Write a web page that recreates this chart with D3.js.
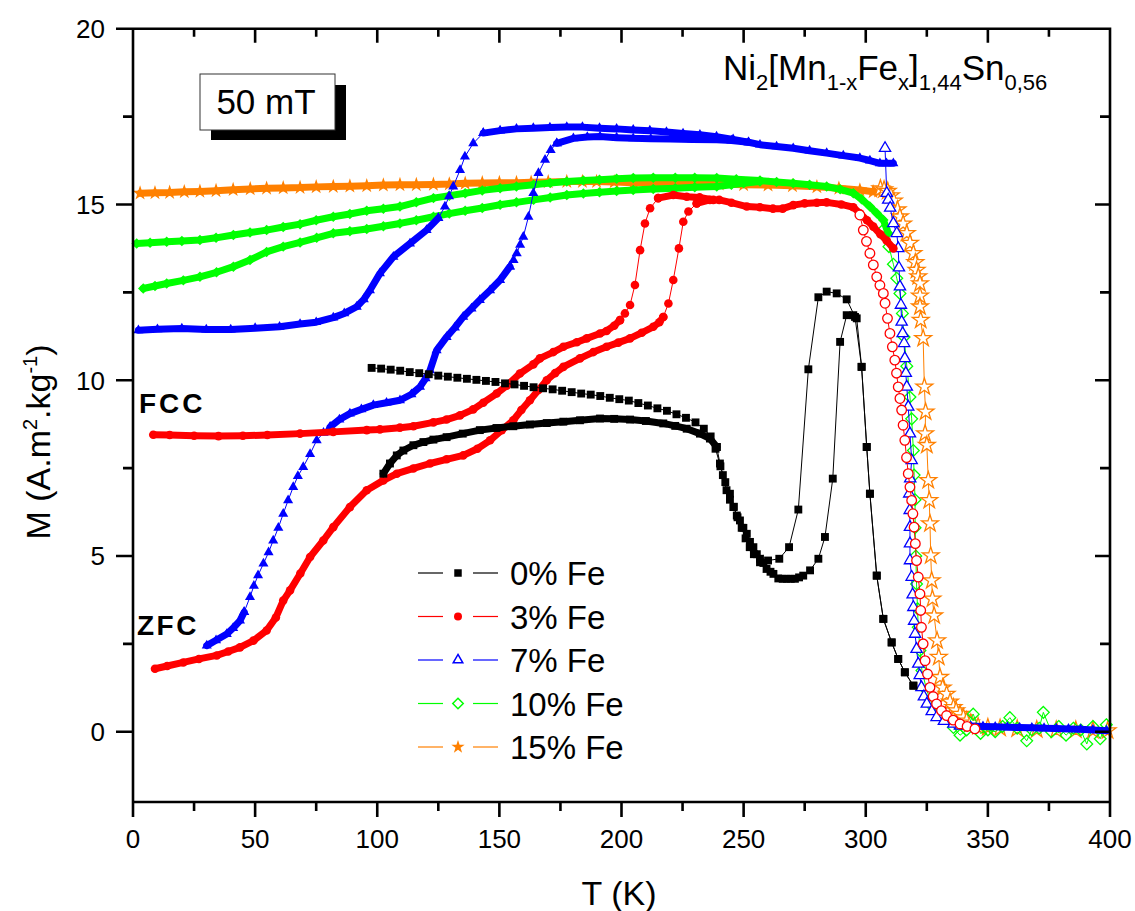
<!DOCTYPE html>
<html><head><meta charset="utf-8">
<script src="https://cdn.jsdelivr.net/npm/d3@7"></script>
<style>
body{margin:0;background:#fff}
svg{display:block}
text{font-family:Arial,"Liberation Sans",sans-serif;fill:#000}
</style>
</head><body>
<svg id="c" width="1135" height="911"></svg>
<script>
// ---------------- DATA (T in K, M in A.m2/kg) ----------------
const xTicks = [0,50,100,150,200,250,300,350,400];
const xMinor = [25,75,125,175,225,275,325,375];
const yTicks = [0,5,10,15,20];
const yMinor = [2.5,7.5,12.5,17.5];
const legendLabels = ['0% Fe','3% Fe','7% Fe','10% Fe','15% Fe'];

// 0% Fe
const fe0_zfc_band = [[102.5,7.34],[105.2,7.63],[108,7.86],[110.7,8.0],[114.8,8.15],[118.9,8.24],[123,8.31],[128.4,8.38],[135,8.48],[142,8.58],[148.8,8.64],[155.7,8.69],[162.5,8.74],[169.4,8.78],[176.2,8.82],[183,8.86],[191.2,8.91],[197,8.9],[203.5,8.88],[210,8.84],[217.1,8.77],[222,8.7],[226.7,8.62],[232.1,8.48],[236.2,8.34],[239,8.1]];
const fe0_heat = [[239,8.1],[240.3,7.63],[241.5,7.3],[243,6.87],[244.4,6.6],[245.8,6.39],[247.2,6.15],[248.5,6.01],[249.9,5.8],[251.3,5.63],[252.6,5.4],[254,5.25],[255.4,5.05],[256.7,4.92],[258.1,4.8],[259.4,4.63],[261,4.55],[262.2,4.49],[264.2,4.36],[266,4.35],[267.6,4.35],[269.3,4.35],[271,4.35],[272.7,4.39],[274.4,4.44],[277.2,4.59],[280.6,4.92],[283.3,5.54],[286.5,7.2],[289.5,11.09],[292.2,11.85],[294.9,11.85],[296.3,11.76],[298.3,10.38],[300.4,8.1],[301.7,6.77],[304.5,4.44],[307.2,3.21],[310.6,2.54],[313.3,2.07],[316,1.69],[319.5,1.31]];
const fe0_fc = [[97.7,10.35],[101.6,10.33],[105.5,10.3],[109.4,10.27],[113.3,10.23],[117.2,10.2],[121.1,10.17],[125,10.13],[128.9,10.1],[132.8,10.07],[136.7,10.04],[140.6,10.01],[144.5,9.98],[148.4,9.95],[152.3,9.91],[156.2,9.88],[160.1,9.84],[164,9.8],[167.9,9.77],[171.8,9.74],[175.7,9.7],[179.6,9.66],[183.5,9.62],[187.4,9.59],[191.3,9.55],[195.2,9.5],[199.1,9.46],[203,9.42],[206.9,9.35],[210.8,9.28],[214.7,9.2],[218.6,9.13],[222.5,9.03],[226.4,8.93],[230.3,8.8],[233.7,8.62],[236.5,8.4],[238.5,8.05],[240.5,7.55],[242.5,7.1],[244.4,6.77],[246,6.4],[247.5,6.1],[249.2,5.8],[250.8,5.5],[252.5,5.25],[254.2,5.05],[256.7,4.82],[260,4.87],[264.6,4.92],[268.6,5.25],[272.4,6.32],[276.5,10.31],[280.6,12.36],[284,12.52],[288.1,12.47],[292.2,12.3],[295.6,11.8],[298.3,10.38],[300.4,8.1],[301.7,6.77],[304.5,4.44],[307.2,3.21],[310.6,2.54],[313.3,2.07],[316,1.69],[319.5,1.31]];

// 3% Fe
const fe3_zfc_band = [[9,1.79],[14,1.87],[20.6,1.97],[27,2.07],[34.3,2.17],[39,2.28],[43.8,2.4],[49.3,2.59],[54.7,2.88],[58.5,3.25],[61.5,3.73],[64.3,4.02],[68.5,4.5],[72.5,4.97],[77.9,5.44],[82,5.82],[88.8,6.39],[95.7,6.87],[102.5,7.15],[108,7.34],[114.8,7.49],[121.6,7.63],[128.4,7.75],[135.2,7.86],[141,8.05],[146.2,8.29],[151,8.58],[155.7,8.86],[159,9.15],[162.5,9.43],[166,9.72],[169.4,10.0],[172.8,10.2],[176.2,10.38],[183,10.62],[188.5,10.8],[193.9,10.95],[198.7,11.07],[203.5,11.19],[208.3,11.35],[213,11.52],[215.5,11.65],[217.1,11.8]];
const fe3_zfc_jump = [[217.1,11.8],[219.2,12.18],[221.2,12.85],[223.5,13.75],[225.3,14.51],[227.4,14.8],[230.8,15.03]];
const fe3_plateau = [[230.8,15.03],[236.2,15.13],[240,15.13],[245,15.05],[251.3,14.94],[256.7,14.92],[262,14.88],[266,14.88],[270.3,14.98],[275,15.03],[280,15.05],[284,15.06],[290,15.0],[294.9,14.92],[297.6,14.75],[300.5,14.55],[303.1,14.37],[306,14.15],[308.6,13.97],[311.3,13.75]];
const fe3_fc_band = [[8.3,8.45],[15,8.44],[25,8.42],[35,8.41],[45,8.42],[55,8.44],[68.4,8.48],[82,8.53],[95.7,8.58],[101.1,8.6],[109.3,8.65],[114.8,8.69],[123,8.8],[128.4,8.88],[133.9,9.0],[139.3,9.17],[143.4,9.36],[148.9,9.62],[153,9.84],[158.4,10.19],[163.9,10.45],[166.6,10.62],[172.1,10.8],[176.2,10.95],[181.7,11.08],[185.8,11.19],[191.2,11.33],[193.9,11.4],[197,11.55],[199.4,11.71]];
const fe3_fc_jump = [[199.4,11.71],[201.4,11.9],[203.5,12.14],[205.5,12.71],[207.6,13.7],[209.6,14.46],[211.7,14.89],[215,15.18]];
const fe3_fc_top = [[215,15.18],[221.2,15.27],[226.7,15.22],[232,15.2],[237.6,15.13]];
const fe3_hiT = [[297.6,14.7],[299,14.27],[300.3,13.95],[301.7,13.61],[303.1,13.28],[304.5,12.94],[305.8,12.7],[307.2,12.47],[307.9,12.19],[308.9,11.76],[309.9,11.33],[310.9,10.95],[311.9,10.57],[312.6,10.2],[313.3,9.81],[314,9.48],[314.7,9.15],[315.3,8.72],[316,8.29],[316.7,7.8],[317.4,7.34],[318.1,6.96],[318.8,6.58],[319.3,6.2],[319.8,5.82],[320.3,5.35],[320.8,4.87],[321.5,4.4],[322.2,3.92],[322.5,3.45],[322.8,2.97],[323.5,2.5],[324.3,2.02],[325.3,1.64],[326.3,1.26],[327.6,1.0],[329,0.79],[331,0.6],[333.1,0.46],[335.8,0.33],[338.6,0.22],[341.5,0.15],[344.7,0.08]];

// 7% Fe
const fe7_fc_band = [[2.2,11.42],[10,11.45],[20,11.47],[30,11.44],[40,11.44],[50,11.48],[60,11.52],[68.4,11.6],[75,11.65],[82,11.78],[86.5,11.9],[91.6,12.09],[94.5,12.3],[97,12.56],[101.1,13.04],[106.6,13.51],[113.4,13.89],[120.2,14.27],[125,14.61]];
const fe7_fc_jump = [[125,14.61],[127.7,14.94],[129.4,15.23],[131.1,15.51],[133.9,15.98],[135.9,16.36],[139.3,16.74],[143.4,17.03]];
const fe7_plateau = [[143.4,17.03],[150.3,17.1],[157,17.15],[163.9,17.17],[170.7,17.19],[177.6,17.2],[184,17.2],[191,17.17],[198,17.15],[204.8,17.12],[211.6,17.1],[218.4,17.06],[225.2,17.02],[232.1,16.98],[238.9,16.93],[245.7,16.85],[252,16.77],[256.7,16.7],[263.5,16.65],[270.3,16.6],[277,16.53],[284,16.46],[290.8,16.39],[297.6,16.32],[301.7,16.25],[305.8,16.17],[308.5,16.17],[311.3,16.17]];
const fe7_zfc_band1 = [[30.2,2.45],[34,2.6],[38.4,2.78],[41,2.95],[43.8,3.16],[45.5,3.4]];
const fe7_zfc_steep1 = [[45.5,3.4],[47.9,3.83],[49.5,4.15],[51.2,4.45],[53.4,4.78],[55.5,5.1],[57.4,5.44],[59.5,5.8],[61.5,6.2],[63.5,6.58],[65.6,6.96],[67.5,7.27],[69.7,7.53],[72.5,7.9],[75.2,8.29],[78,8.5],[80.7,8.67]];
const fe7_zfc_band2 = [[80.7,8.67],[84.5,8.88],[88.8,9.05],[93.5,9.17],[98.4,9.29],[103.8,9.36],[109.3,9.43],[114,9.6],[117.5,9.81],[119.8,10.05],[121.6,10.28],[124.3,10.85],[128.4,11.23],[131.8,11.5],[135.2,11.8],[138.6,12.04],[142,12.28],[146.2,12.56],[150.3,12.85],[154.3,13.23]];
const fe7_zfc_steep2 = [[154.3,13.23],[155.8,13.42],[157.1,13.61],[158.5,13.85],[159.8,14.08],[161.9,14.65],[163.9,15.32],[166,15.89],[168.7,16.27],[171,16.55],[173.5,16.74]];
const fe7_zfc_band3 = [[173.5,16.74],[180.3,16.88],[186,16.92],[191.2,16.93],[198,16.9],[204.8,16.88],[212,16.87],[220,16.86],[229,16.85],[239,16.84],[245,16.82],[252,16.77]];
const fe7_hiT = [[307.9,16.6],[308.6,15.32],[309.2,15.13],[310,14.9],[311.3,14.46],[312.7,14.18],[313.3,13.75],[313.6,13.2],[314,12.66],[314.4,12.14],[314.7,11.66],[315.1,11.33],[315.7,11.05],[316,10.62],[316.4,10.2],[316.8,9.81],[317.4,9.24],[318.1,8.48],[318.8,7.72],[318.2,7.2],[317.8,6.77],[318,6.3],[318.1,5.82],[318.1,5.35],[318.1,4.87],[318.8,4.4],[319.2,3.9],[319.5,3.54],[319.8,3.15],[320.2,2.78],[320.8,2.35],[321.5,1.93],[322.1,1.6],[322.8,1.26],[323.8,1.0],[325,0.79],[327,0.58],[329,0.41],[332,0.3],[335.9,0.22],[338.6,0.17]];
const fe7_tail = [[338.6,0.17],[343,0.16],[348,0.15],[353,0.14],[358,0.13],[363,0.12],[368,0.11],[373,0.1],[378,0.09],[383,0.08],[388,0.07],[393,0.05],[398.6,0.03]];

// 10% Fe
const fe10_fc_band = [[1.5,13.89],[7,13.91],[13.8,13.94],[20,13.96],[27.4,13.99],[34,14.05],[41.1,14.13],[47.9,14.2],[54.7,14.27],[61.5,14.36],[68.4,14.44],[75,14.55],[82,14.65],[88.8,14.73],[95.7,14.82],[102.5,14.88],[109.3,14.94],[116,15.06],[123,15.18],[129.5,15.25],[136,15.32],[143,15.4],[150.3,15.46],[157,15.51],[164,15.56],[170.8,15.61],[177.6,15.65],[184.4,15.68],[191,15.7],[198,15.73],[204.8,15.75],[213,15.76],[222,15.76],[230,15.76],[239,15.75],[247,15.72],[256.7,15.68],[263.5,15.64],[270.3,15.6],[277,15.56],[284,15.51],[289.5,15.43],[294.9,15.32],[298.3,15.15],[301.7,14.94],[304.5,14.75],[307.2,14.56],[309.2,14.18]];
const fe10_zfc_band = [[4.2,12.61],[9,12.68],[13.8,12.75],[20.6,12.84],[27.4,12.94],[34.2,13.07],[41.1,13.23],[47.9,13.42],[54.7,13.65],[61.5,13.8],[68.4,13.92],[75.2,14.05],[82,14.18],[88.8,14.24],[95.7,14.3],[102.5,14.38],[109.3,14.46],[116,14.55],[123,14.65],[129.5,14.74],[136,14.82],[143,14.9],[150.3,14.99],[157,15.06],[164,15.13],[170.8,15.2],[177.6,15.27],[184.4,15.31],[191,15.35],[198,15.38],[204.8,15.41],[213,15.44],[222,15.46],[230,15.49],[239,15.51],[245,15.56],[250,15.6],[256.7,15.65]];
const fe10_hiT = [[307.5,14.3],[309.5,13.8],[311.3,13.3],[312.7,12.9],[314,12.47],[315,11.9],[315.7,11.23],[316.8,10.4],[318.1,9.52],[318.8,8.9],[319.5,8.0],[319.8,7.3],[320.2,6.6],[320.2,5.8],[320.5,5.0],[320.8,4.2],[321.2,3.5],[321.5,2.97],[322.2,2.31],[323,1.74],[325,1.17],[327.7,0.69],[331.8,0.41],[335.9,0.12],[338.6,-0.1],[341.3,0.05],[344,0.5],[347,-0.05],[350,0.05],[353,0.0],[356,0.15],[359,0.4],[362,0.1],[365.9,-0.26],[368,0.05],[371,0.1],[372.7,0.55],[376,0.0],[379,0.15],[382,-0.1],[385,0.1],[388,0.05],[390.5,-0.35],[393,0.15],[396,-0.2],[398.5,0.2]];

// 15% Fe
const fe15_band = [[2.9,15.32],[9,15.33],[15,15.34],[21,15.36],[27.4,15.37],[34,15.39],[41,15.42],[48,15.44],[54.7,15.46],[61.5,15.47],[68.4,15.48],[75,15.5],[82,15.51],[88.8,15.52],[95.7,15.53],[102.5,15.55],[109.3,15.56],[116,15.56],[123,15.57],[129.5,15.58],[136,15.6],[143,15.61],[150,15.62],[157,15.62],[163,15.63],[170,15.64],[177.6,15.65],[184,15.65],[189.8,15.65],[197,15.64],[205,15.62],[213,15.61],[222,15.6],[231,15.59],[240,15.58],[250,15.56],[260,15.55],[270,15.53],[280,15.5],[289,15.46],[297.6,15.41],[303,15.36],[306,15.4]];
const fe15_hiT = [[306,15.45],[307.5,15.42],[309,15.38],[310.3,15.25],[311.5,15.1],[313,14.85],[314,14.65],[315.3,14.45],[316.8,14.18],[318.1,13.9],[319.5,13.61],[320.3,13.35],[320.8,13.13],[321.5,12.95],[322.2,12.75],[322.2,12.4],[322.2,12.09],[322.5,11.71],[323.5,11.19],[324,9.81],[324.5,9.1],[324.3,8.48],[325,8.15],[325.6,7.15],[326,6.58],[326.3,5.92],[326.6,5.01],[327,4.3],[327.3,3.78],[328,3.3],[329.2,2.59],[329.9,2.12],[330.4,1.55],[331.5,1.25],[333.1,1.07],[334.5,0.85],[335.9,0.69],[337,0.6],[338.6,0.5],[340,0.4],[341.3,0.31],[343,0.25],[346,0.15],[350,0.12],[355,0.1],[362,0.08],[370,0.06],[378,0.05],[386,0.05],[393,0.04],[399,0.03]];

// ---------------- STYLE ----------------
const diamondType = {draw(ctx,size){const r=Math.sqrt(size/2);ctx.moveTo(0,-r);ctx.lineTo(r,0);ctx.lineTo(0,r);ctx.lineTo(-r,0);ctx.closePath();}};
const styles = [
  {color:'#000000', shape:d3.symbolSquare,   size:62, legendSize:56, legendOpen:false},
  {color:'#ff0000', shape:d3.symbolCircle,   size:58, legendSize:50, legendOpen:false},
  {color:'#0000ff', shape:d3.symbolTriangle, size:44, legendSize:40, legendOpen:true},
  {color:'#00ff00', shape:diamondType,       size:55, legendSize:55, legendOpen:true},
  {color:'#ff8000', shape:d3.symbolStar,     size:70, legendSize:55, legendOpen:false}
];
// [series index, data, kind]  kind: band | pts | open | openNoFill
const segments = [
  [4, fe15_band, 'band'], [4, fe15_hiT, 'open'],
  [3, fe10_fc_band, 'band'], [3, fe10_zfc_band, 'band'], [3, fe10_hiT, 'openNoFill'],
  [2, fe7_fc_band, 'band'], [2, fe7_fc_jump, 'pts'], [2, fe7_plateau, 'band'],
  [2, fe7_zfc_band1, 'band'], [2, fe7_zfc_steep1, 'pts'], [2, fe7_zfc_band2, 'band'], [2, fe7_zfc_steep2, 'pts'], [2, fe7_zfc_band3, 'band'],
  [2, fe7_tail, 'band'], [2, fe7_hiT, 'open'],
  [1, fe3_zfc_band, 'band'], [1, fe3_zfc_jump, 'pts'], [1, fe3_plateau, 'band'],
  [1, fe3_fc_band, 'band'], [1, fe3_fc_jump, 'pts'], [1, fe3_fc_top, 'band'], [1, fe3_hiT, 'open'],
  [0, fe0_zfc_band, 'band'], [0, fe0_heat, 'pts'], [0, fe0_fc, 'pts']
];

// ---------------- DRAW ----------------
const svg = d3.select('#c');
const L=133, R=1110, T=28.7, B=802;
const x = d3.scaleLinear().domain([0,400]).range([L,R]);
const y = d3.scaleLinear().domain([-2,20]).range([B,T]);
const line = d3.line().x(d=>x(d[0])).y(d=>y(d[1]));

const plot = svg.append('g');
segments.forEach(([si,data,kind])=>{
  const st = styles[si];
  const g = plot.append('g');
  g.append('path').attr('d', line(data)).attr('fill','none').attr('stroke',st.color)
    .attr('stroke-width', kind==='band' ? 7 : 1).attr('stroke-linejoin','round').attr('stroke-linecap','round');
  const sym = d3.symbol().type(st.shape).size(kind==='band'||kind==='pts' ? st.size : st.size*1.25);
  g.selectAll('path.m').data(data).join('path').attr('class','m')
    .attr('transform', d=>`translate(${x(d[0])},${y(d[1])})`)
    .attr('d', sym)
    .attr('fill', kind==='open' ? '#fff' : (kind==='openNoFill' ? 'none' : st.color))
    .attr('stroke', (kind==='open'||kind==='openNoFill') ? st.color : 'none')
    .attr('stroke-width', 1.3);
});

// frame + ticks as one path built from the scales
const p = d3.path();
p.rect(L, T, R-L, B-T);
xTicks.forEach(v=>{ p.moveTo(x(v),B); p.lineTo(x(v),B+15); p.moveTo(x(v),T); p.lineTo(x(v),T+14); });
xMinor.forEach(v=>{ p.moveTo(x(v),B); p.lineTo(x(v),B+9);  p.moveTo(x(v),T); p.lineTo(x(v),T+8); });
yTicks.forEach(v=>{ p.moveTo(L,y(v)); p.lineTo(L-17,y(v)); p.moveTo(R,y(v)); p.lineTo(R-15,y(v)); });
yMinor.forEach(v=>{ p.moveTo(L,y(v)); p.lineTo(L-10,y(v)); p.moveTo(R,y(v)); p.lineTo(R-10,y(v)); });
svg.append('path').attr('d', p.toString()).attr('fill','none').attr('stroke','#000').attr('stroke-width',2.6);

// tick labels
svg.append('g').selectAll('text').data(xTicks).join('text')
  .attr('x',d=>x(d)).attr('y',848).attr('text-anchor','middle').attr('font-size',26).text(d=>d);
svg.append('g').selectAll('text').data(yTicks).join('text')
  .attr('x',105).attr('y',d=>y(d)).attr('dy','0.36em').attr('text-anchor','end').attr('font-size',26).text(d=>d);

// axis titles
svg.append('text').attr('x',619).attr('y',905).attr('text-anchor','middle').attr('font-size',34).text('T (K)');
const yl = svg.append('text').attr('transform','translate(50,442) rotate(-90)').attr('text-anchor','middle').attr('font-size',34);
yl.append('tspan').text('M (A.m');
yl.append('tspan').attr('font-size',20).attr('dy',-13).text('2');
yl.append('tspan').attr('dy',13).text('.kg');
yl.append('tspan').attr('font-size',20).attr('dy',-13).text('-1');
yl.append('tspan').attr('dy',13).text(')');

// 50 mT box
svg.append('rect').attr('x',211).attr('y',85).attr('width',135).attr('height',55).attr('fill','#000');
svg.append('rect').attr('x',200).attr('y',74).attr('width',135).attr('height',56).attr('fill','#fff').attr('stroke','#333').attr('stroke-width',1);
svg.append('text').attr('x',266).attr('y',114).attr('text-anchor','middle').attr('font-size',35).text('50 mT');

// compound title
const tt = svg.append('text').attr('x',723).attr('y',80).attr('font-size',35);
const parts = [['Ni',0],['2',1],['[Mn',0],['1-x',1],['Fe',0],['x',1],[']',0],['1,44',1],['Sn',0],['0,56',1]];
let cur = 0;
parts.forEach(([t,sub])=>{
  const sp = tt.append('tspan').text(t);
  if(sub){ sp.attr('font-size',22).attr('dy',10-cur); cur=10; }
  else { sp.attr('dy',0-cur); cur=0; }
});

// FCC / ZFC
svg.append('text').attr('x',139).attr('y',413).attr('font-size',28).attr('font-weight','bold').attr('letter-spacing',3).text('FCC');
svg.append('text').attr('x',137).attr('y',635).attr('font-size',28).attr('font-weight','bold').attr('letter-spacing',2.5).text('ZFC');

// legend
const lg = svg.append('g');
legendLabels.forEach((lab,i)=>{
  const st = styles[i];
  const cy = 573 + i*43.5;
  lg.append('line').attr('x1',418).attr('x2',443).attr('y1',cy).attr('y2',cy).attr('stroke',st.color).attr('stroke-width',1.2);
  lg.append('line').attr('x1',473).attr('x2',498).attr('y1',cy).attr('y2',cy).attr('stroke',st.color).attr('stroke-width',1.2);
  lg.append('path').attr('transform',`translate(458,${cy})`).attr('d',d3.symbol().type(st.shape).size(st.legendSize)())
    .attr('fill', st.legendOpen ? '#fff' : st.color).attr('stroke', st.legendOpen ? st.color : 'none').attr('stroke-width',1.5);
  lg.append('text').attr('x',510).attr('y',cy+12).attr('font-size',33).text(lab);
});
</script>
</body></html>
